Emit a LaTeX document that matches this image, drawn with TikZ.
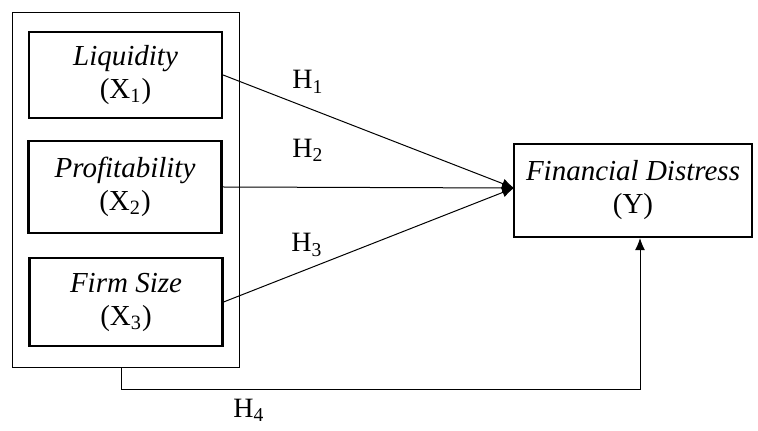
\documentclass[tikz,border=0pt]{standalone}
\usepackage{fontspec}
\setmainfont{Liberation Serif}
\usetikzlibrary{arrows.meta,calc}
\begin{document}
\begin{tikzpicture}[x=0.5pt,y=-0.5pt,
  varbox/.style={draw,line width=1.1pt,align=center,inner sep=0pt,minimum width=96.5pt,font=\fontsize{14.5}{16.5}\selectfont},
  outerbox/.style={draw,line width=0.5pt,minimum width=113.5pt,minimum height=177.5pt,inner sep=0pt},
  conn/.style={line width=0.5pt},
  arr/.style={conn,-{Latex[length=6pt,width=5pt]}},
  hlab/.style={font=\fontsize{14}{16}\selectfont,inner sep=0pt}]
\fill[white] (0,0) rectangle (758,431);
\useasboundingbox (0,0) rectangle (758,431);
\node[outerbox] (outer) at (125.5,190.5) {};
\node[varbox,minimum height=43pt] (liq) at (125.5,75) {\textit{Liquidity}\\(X\textsubscript{1})};
\node[varbox,minimum height=46pt] (prof) at (125,187) {\textit{Profitability}\\(X\textsubscript{2})};
\node[varbox,minimum height=44pt] (firm) at (126,302) {\textit{Firm Size}\\(X\textsubscript{3})};
\node[varbox,minimum width=119pt,minimum height=46.5pt] (fd) at (633,190.5) {\textit{Financial Distress}\\(Y)};
\coordinate (tip) at (514,188);
\draw[arr] (liq.east) -- (tip);
\draw[arr] (prof.east) -- (tip);
\draw[arr] (firm.east) -- (tip);
\coordinate (b1) at (121,390);
\draw[arr] (outer.south -| b1) -- (b1) -| ([xshift=3.5pt]fd.south);
\node[hlab] (h1) at (308,82) {H\textsubscript{1}};
\node[hlab] (h2) at (308,150) {H\textsubscript{2}};
\node[hlab] (h3) at (307,245) {H\textsubscript{3}};
\node[hlab] (h4) at (249,410) {H\textsubscript{4}};
\end{tikzpicture}
\end{document}
